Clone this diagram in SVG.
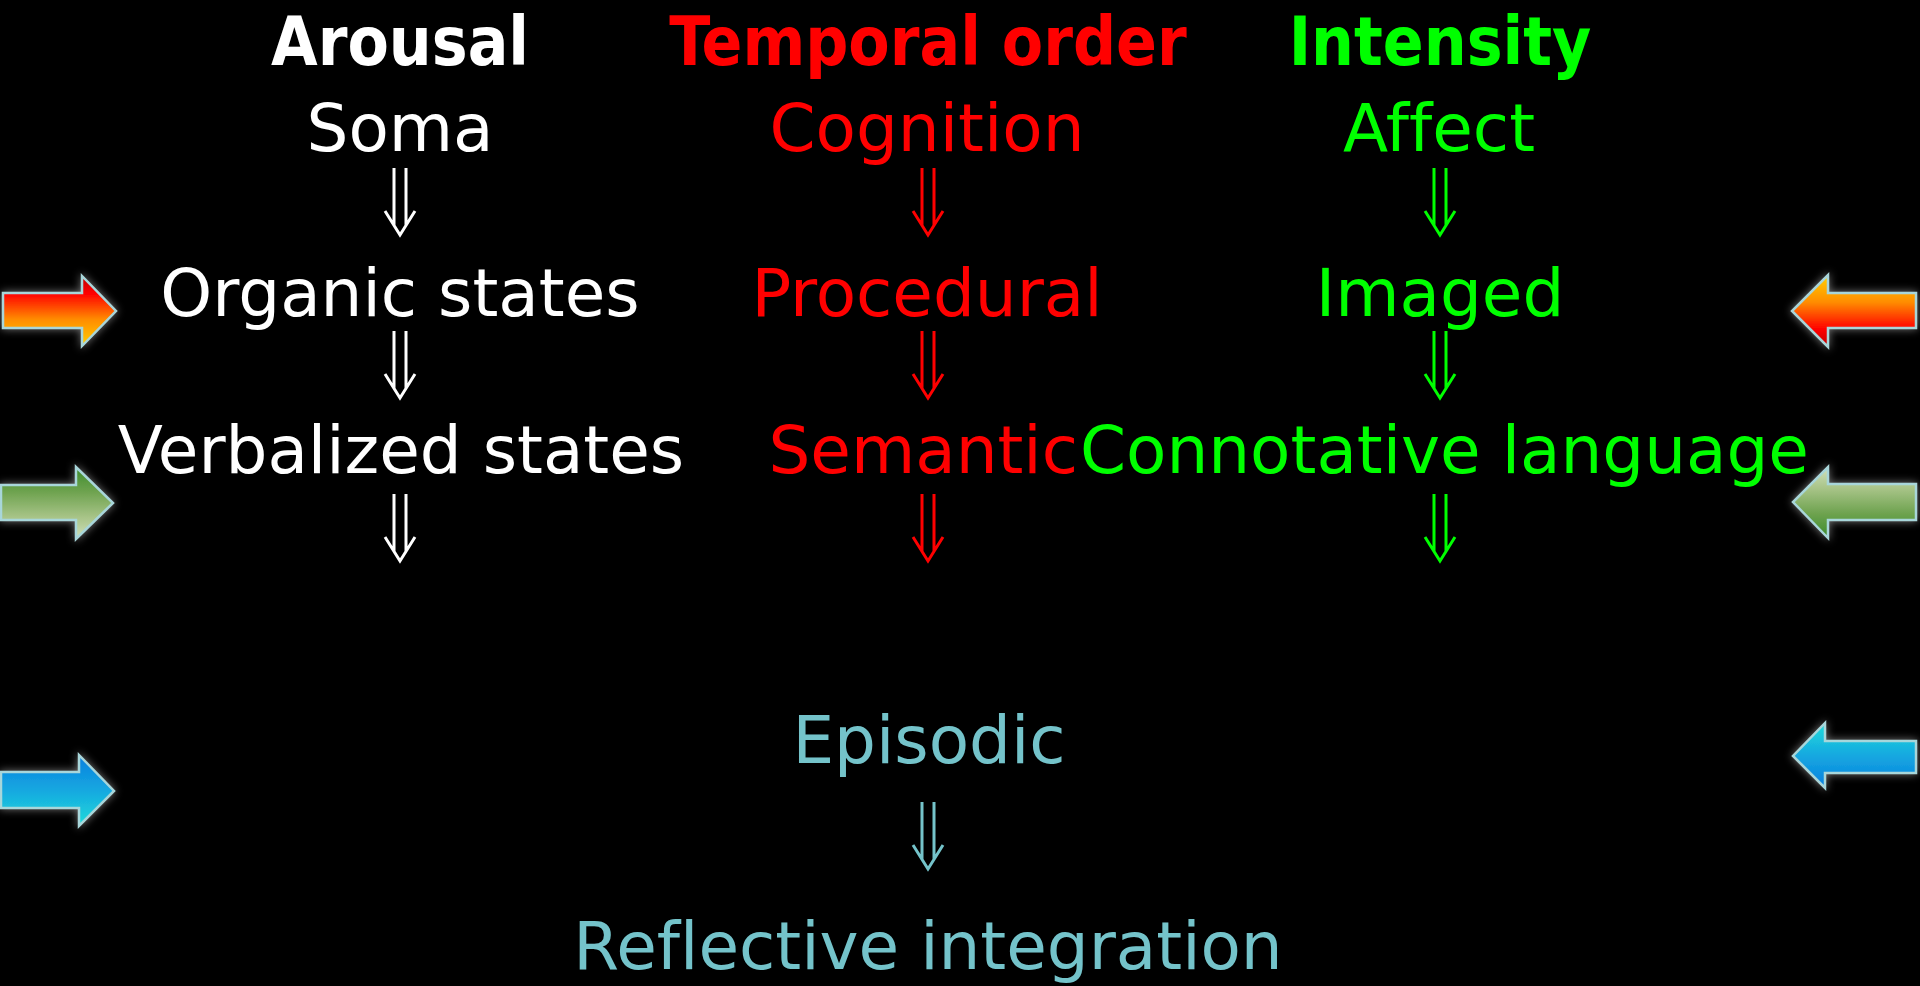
<svg xmlns="http://www.w3.org/2000/svg" width="1920" height="986" viewBox="0 0 1920 986">
<style>
.t{font-family:"DejaVu Sans","Liberation Sans",sans-serif;font-size:66px;text-anchor:middle;font-variant-ligatures:none}
.h{font-family:"DejaVu Sans Condensed","DejaVu Sans","Liberation Sans",sans-serif;font-size:67px;font-weight:bold;text-anchor:middle}
.w{fill:#FFFFFF}.r{fill:#FF0000}.g{fill:#00FF00}.c{fill:#74C3CA}
.da{fill:none;stroke-width:3;stroke-linejoin:miter;stroke-linecap:butt}
.sa{stroke:#A8D6DA;stroke-width:2.5;filter:url(#glow)}
</style>
<defs>
<filter id="glow" x="-30%" y="-40%" width="160%" height="180%">
<feGaussianBlur in="SourceAlpha" stdDeviation="4" result="b"/>
<feFlood flood-color="#FFFFFF" flood-opacity="0.45"/>
<feComposite in2="b" operator="in" result="g"/>
<feMerge><feMergeNode in="g"/><feMergeNode in="SourceGraphic"/></feMerge>
</filter>
<linearGradient id="redD" x1="0" y1="0" x2="0" y2="1"><stop offset="0" stop-color="#C00000"/><stop offset="0.25" stop-color="#FF0000"/><stop offset="0.62" stop-color="#FF8C00"/><stop offset="1" stop-color="#FFD000"/></linearGradient>
<linearGradient id="redU" x1="0" y1="0" x2="0" y2="1"><stop offset="0" stop-color="#FFD000"/><stop offset="0.38" stop-color="#FF8C00"/><stop offset="0.75" stop-color="#FF0000"/><stop offset="1" stop-color="#C00000"/></linearGradient>
<linearGradient id="grnD" x1="0" y1="0" x2="0" y2="1"><stop offset="0" stop-color="#3C8C2C"/><stop offset="0.35" stop-color="#6FA350"/><stop offset="0.7" stop-color="#A8C488"/><stop offset="1" stop-color="#D0E0BC"/></linearGradient>
<linearGradient id="grnU" x1="0" y1="0" x2="0" y2="1"><stop offset="0" stop-color="#D0E0BC"/><stop offset="0.3" stop-color="#A8C488"/><stop offset="0.65" stop-color="#6FA350"/><stop offset="1" stop-color="#3C8C2C"/></linearGradient>
<linearGradient id="bluD" x1="0" y1="0" x2="0" y2="1"><stop offset="0" stop-color="#0A7FE0"/><stop offset="0.5" stop-color="#15A8E0"/><stop offset="1" stop-color="#22DCDA"/></linearGradient>
<linearGradient id="bluU" x1="0" y1="0" x2="0" y2="1"><stop offset="0" stop-color="#22DCDA"/><stop offset="0.5" stop-color="#15A8E0"/><stop offset="1" stop-color="#0A7FE0"/></linearGradient>
<path id="dbl" d="M-6,0 V57 M6,0 V57 M-15,43 L0,67 L15,43"/>
</defs>
<rect width="1920" height="986" fill="#000000"/>

<g id="side-arrows">
<path id="arrow-left-red" class="sa" fill="url(#redD)" d="M3,293 H82 V276 L116,311 L82,346 V328 H3 Z"/>
<path id="arrow-left-green" class="sa" fill="url(#grnD)" d="M1,485 H76 V467 L113,503 L76,539 V520 H1 Z"/>
<path id="arrow-left-blue" class="sa" fill="url(#bluD)" d="M1,772 H79 V755 L114,791 L79,826 V808 H1 Z"/>
<path id="arrow-right-red" class="sa" fill="url(#redU)" d="M1916,293 H1828 V275 L1792,311 L1828,347 V328 H1916 Z"/>
<path id="arrow-right-green" class="sa" fill="url(#grnU)" d="M1916,484 H1828 V467 L1793,502 L1828,538 V520 H1916 Z"/>
<path id="arrow-right-blue" class="sa" fill="url(#bluU)" d="M1916,741 H1825 V723 L1793,756 L1825,788 V773 H1916 Z"/>
</g>

<g id="header-arousal"><text class="h w" x="400" y="65">Arousal</text></g>
<g id="header-temporal"><text class="h r" x="928" y="65">Temporal order</text></g>
<g id="header-intensity"><text class="h g" x="1440" y="65">Intensity</text></g>

<g id="node-soma"><text class="t w" x="400" y="151">Soma</text></g>
<g id="node-cognition"><text class="t r" x="927" y="151">Cognition</text></g>
<g id="node-affect"><text class="t g" x="1439" y="151">Affect</text></g>

<g id="node-organic"><text class="t w" x="400" y="316">Organic states</text></g>
<g id="node-procedural"><text class="t r" x="927" y="316">Procedural</text></g>
<g id="node-imaged"><text class="t g" x="1440" y="316">Imaged</text></g>

<g id="node-verbalized"><text class="t w" x="401" y="473">Verbalized states</text></g>
<g id="node-semantic"><text class="t r" x="1078" y="473" style="text-anchor:end">Semantic</text></g>
<g id="node-connotative"><text class="t g" x="1080" y="473" style="text-anchor:start">Connotative language</text></g>

<g id="node-episodic"><text class="t c" x="929" y="763">Episodic</text></g>
<g id="node-reflective"><text class="t c" x="928" y="969">Reflective integration</text></g>

<g id="connectors">
<use href="#dbl" class="da" stroke="#FFFFFF" x="400" y="168"/>
<use href="#dbl" class="da" stroke="#FFFFFF" x="400" y="331"/>
<use href="#dbl" class="da" stroke="#FFFFFF" x="400" y="494"/>
<use href="#dbl" class="da" stroke="#FF0000" x="928" y="168"/>
<use href="#dbl" class="da" stroke="#FF0000" x="928" y="331"/>
<use href="#dbl" class="da" stroke="#FF0000" x="928" y="494"/>
<use href="#dbl" class="da" stroke="#00FF00" x="1440" y="168"/>
<use href="#dbl" class="da" stroke="#00FF00" x="1440" y="331"/>
<use href="#dbl" class="da" stroke="#00FF00" x="1440" y="494"/>
<use href="#dbl" class="da" stroke="#74C3CA" x="928" y="802"/>
</g>
</svg>
